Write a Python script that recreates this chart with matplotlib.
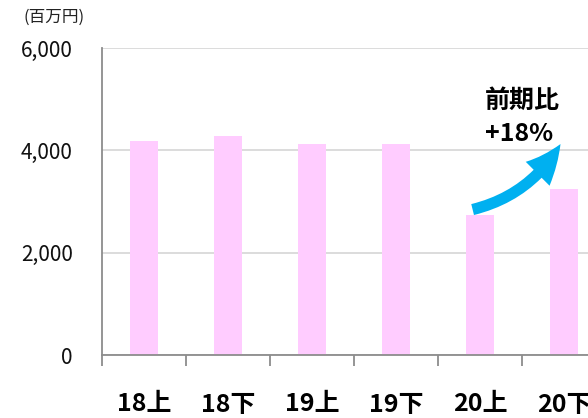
import matplotlib
matplotlib.use("Agg")
import matplotlib.pyplot as plt
from matplotlib.patches import FancyArrowPatch
from matplotlib.ticker import FuncFormatter, FixedLocator

plt.rcParams["font.family"] = ["Noto Sans CJK JP", "DejaVu Sans"]

categories = ["18上", "18下", "19上", "19下", "20上", "20下"]
sales = [4190, 4280, 4120, 4120, 2740, 3240]
yticks = [0, 2000, 4000, 6000]
unit_label = "(百万円)"
note_title = "前期比"
note_value = "+18%"

BAR = "#FFCCFF"
ARROW = "#00B0F0"
GRID = "#D9D9D9"
SPINE = "#8C8C8C"

fig = plt.figure(figsize=(5.88, 4.18), dpi=100)
ax = fig.add_axes([102 / 588, 1 - 355 / 418, 1 - 102 / 588, (355 - 48) / 418])

x = list(range(len(categories)))
ax.bar(x, sales, width=0.33, color=BAR, zorder=2)

ax.set_xlim(-0.5, -0.5 + (588 - 102) / 84)
ax.set_ylim(0, 6000)
ax.set_yticks(yticks)
ax.yaxis.set_major_formatter(FuncFormatter(lambda v, p: f"{int(v):,}"))
ax.grid(axis="y", color=GRID, lw=1.3, zorder=0)
ax.tick_params(axis="y", length=0, pad=21, labelsize=15, labelcolor="#111111")

# category boundaries as ticks, labels at bar centres
ax.xaxis.set_major_locator(FixedLocator([i - 0.5 for i in range(len(categories) + 1)]))
ax.xaxis.set_major_formatter(FuncFormatter(lambda v, p: ""))
ax.set_xticks(x, minor=True)
ax.set_xticklabels(categories, minor=True, fontsize=18, fontweight="bold")
ax.tick_params(axis="x", which="major", length=8, width=1.3, color=SPINE, direction="out")
ax.tick_params(axis="x", which="minor", length=0, pad=27)

for s in ["top", "right"]:
    ax.spines[s].set_visible(False)
for s in ["left", "bottom"]:
    ax.spines[s].set_color(SPINE)
    ax.spines[s].set_linewidth(1.3)

fig.text(24 / 588, 1 - 17 / 418, unit_label, fontsize=12, va="center", ha="left", color="#222222")

# growth arrow from 20上 to 20下
arrow = FancyArrowPatch((3.88, 2830), (4.975, 4170),
                        connectionstyle="arc3,rad=0.22",
                        arrowstyle="simple,head_length=1.5,head_width=1.35,tail_width=0.45",
                        mutation_scale=18, color=ARROW, lw=0, zorder=4)
ax.add_patch(arrow)
ax.text(4.06, 4960, note_title, fontsize=18, fontweight="bold", ha="left", va="center", zorder=5)
ax.text(4.06, 4320, note_value, fontsize=18, fontweight="bold", ha="left", va="center", zorder=5)

fig.savefig("out.png", dpi=100)
